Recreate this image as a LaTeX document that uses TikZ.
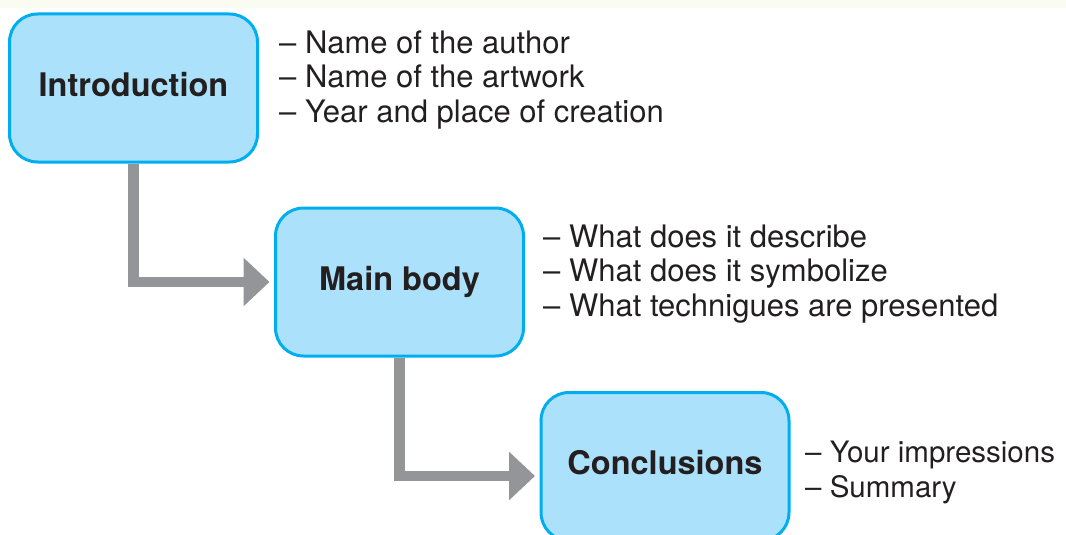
\documentclass[tikz,border=0pt]{standalone}
\usepackage{fontspec}
\setmainfont{TeX Gyre Heros}
\usepackage{xcolor}
\usetikzlibrary{positioning,arrows.meta,backgrounds,calc}

\definecolor{boxline}{RGB}{0,174,239}
\definecolor{boxfill}{RGB}{171,225,250}
\definecolor{flowgray}{RGB}{147,149,152}
\definecolor{inkdark}{RGB}{35,31,32}
\definecolor{paper}{RGB}{250,251,241}

\begin{document}
\begin{tikzpicture}[
  x=1pt, y=-1pt,
  text=inkdark,
  part/.style={draw=boxline, fill=boxfill, line width=3pt, rounded corners=28pt,
    minimum width=248pt, minimum height=148pt, align=center,
    font=\bfseries\fontsize{32.5}{38}\selectfont, text height=23pt, text depth=7pt},
  points/.style={align=left, anchor=west, inner sep=0pt,
    font=\fontsize{31}{34.5}\selectfont},
  flow/.style={draw=flowgray, line width=10.5pt, line join=miter,
    -{Triangle[length=26pt, width=47pt]}}
]
\useasboundingbox (0,0) rectangle (1066,535);
\clip (0,0) rectangle (1066,535);

% Bloques
\node[part] (intro) at (133.5,88)  {Introduction};
\node[part] (body)  at (399.5,282) {Main body};
\node[part] (concl) at (665,466.5) {Conclusions};

% Listas
\node[points] (introlist) at (279,79.7)
  {\textendash\ Name of the author\\\textendash\ Name of the artwork\\\textendash\ Year and place of creation};
\node[points] (bodylist) at (543,273.8)
  {\textendash\ What does it describe\\\textendash\ What does it symbolize\\\textendash\ What technigues are presented};
\node[points, font=\fontsize{29.5}{34.5}\selectfont] (concllist) at (805,472.5)
  {\textendash\ Your impressions\\\textendash\ Summary};

\begin{scope}[on background layer]
  \fill[paper] (0,0) rectangle (1066,8);
  \draw[flow] (intro.south) |- ($(body.west)+(-4.5,0)$);
  \draw[flow] (body.south) |- ($(concl.west)+(-4.5,9.5)$);
\end{scope}
\end{tikzpicture}
\end{document}
